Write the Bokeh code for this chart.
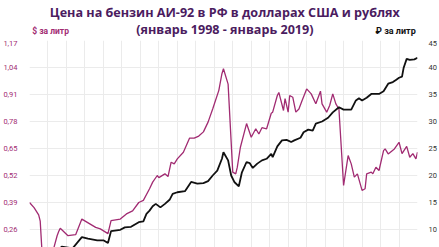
import pandas as pd
from bokeh.plotting import figure
from bokeh.layouts import column
from bokeh.models import Range1d, LinearAxis, FixedTicker, CustomJSTickFormatter
from bokeh.core.properties import value
from bokeh.embed import file_html
from bokeh.resources import INLINE

# --- data -------------------------------------------------------------
usd_months = ["1998-01", "1998-04", "1998-07", "1998-08", "1998-09", "1998-10", "1998-11",
              "1999-01", "1999-03", "1999-05", "1999-07", "1999-08", "1999-09", "2000-02",
              "2000-07", "2000-11", "2001-08", "2001-11", "2002-04", "2002-06", "2002-12",
              "2003-04", "2003-08", "2003-12", "2004-03", "2004-07", "2004-09", "2004-12",
              "2005-01", "2005-05", "2005-07", "2005-09", "2005-11", "2006-01", "2006-05",
              "2006-09", "2006-12", "2007-03", "2007-06", "2007-09", "2007-12", "2008-04",
              "2008-06", "2008-07", "2008-10", "2009-01", "2009-03", "2009-04", "2009-06",
              "2009-10", "2010-01", "2010-04", "2010-06", "2010-08", "2010-11", "2011-02",
              "2011-03", "2011-06", "2011-07", "2011-10", "2011-11", "2012-01", "2012-02",
              "2012-04", "2012-06", "2012-08", "2012-10", "2013-01", "2013-04", "2013-07",
              "2013-10", "2013-11", "2014-02", "2014-04", "2014-06", "2014-08", "2014-10",
              "2015-01", "2015-04", "2015-06", "2015-08", "2015-10", "2016-01", "2016-03",
              "2016-04", "2016-07", "2016-08", "2016-10", "2016-12", "2017-03", "2017-04",
              "2017-06", "2017-10", "2018-01", "2018-03", "2018-06", "2018-08", "2018-10",
              "2018-12", "2019-01"]
usd_price = [0.39, 0.365, 0.33, 0.30, 0.17, 0.13, 0.12,
             0.11, 0.12, 0.175, 0.23, 0.25, 0.266, 0.23,
             0.235, 0.31, 0.27, 0.263, 0.24, 0.303, 0.31,
             0.335, 0.35, 0.39, 0.40, 0.456, 0.488, 0.52,
             0.51, 0.528, 0.515, 0.584, 0.576, 0.60, 0.632,
             0.70, 0.70, 0.71, 0.73, 0.777, 0.84, 0.93,
             1.01, 1.034, 0.96, 0.536, 0.528, 0.56, 0.656,
             0.77, 0.704, 0.745, 0.72, 0.75, 0.745, 0.82,
             0.825, 0.905, 0.92, 0.833, 0.89, 0.825, 0.905,
             0.897, 0.825, 0.84, 0.88, 0.937, 0.913, 0.865,
             0.926, 0.865, 0.825, 0.857, 0.913, 0.865, 0.84,
             0.472, 0.616, 0.576, 0.512, 0.528, 0.448, 0.456,
             0.528, 0.536, 0.528, 0.56, 0.544, 0.64, 0.648,
             0.624, 0.648, 0.68, 0.625, 0.66, 0.608, 0.625,
             0.60, 0.632]

rub_months = ["1998-01", "1998-07", "1998-10", "1999-01", "1999-05", "1999-08", "1999-10",
              "2000-01", "2000-05", "2000-11", "2001-03", "2001-09", "2002-01", "2002-04",
              "2002-06", "2002-12", "2003-03", "2003-07", "2003-12", "2004-03", "2004-05",
              "2004-07", "2004-09", "2004-11", "2005-02", "2005-05", "2005-08", "2005-10",
              "2006-01", "2006-06", "2006-10", "2007-02", "2007-06", "2007-09", "2007-12",
              "2008-03", "2008-06", "2008-07", "2008-10", "2008-12", "2009-02", "2009-05",
              "2009-07", "2009-10", "2009-12", "2010-02", "2010-05", "2010-08", "2010-11",
              "2011-02", "2011-03", "2011-06", "2011-09", "2011-12", "2012-03", "2012-05",
              "2012-09", "2012-11", "2013-02", "2013-05", "2013-07", "2013-11", "2014-03",
              "2014-06", "2014-10", "2015-01", "2015-06", "2015-09", "2015-11", "2016-01",
              "2016-04", "2016-07", "2016-12", "2017-03", "2017-06", "2017-09", "2017-11",
              "2018-01", "2018-03", "2018-04", "2018-06", "2018-08", "2018-11", "2019-01"]
rub_price = [2.4, 2.5, 3.0, 3.8, 5.0, 6.2, 6.85,
             6.7, 6.5, 8.6, 8.3, 8.0, 8.0, 7.5,
             9.7, 9.95, 10.4, 10.5, 11.35, 11.5, 12.9,
             13.5, 14.3, 14.75, 14.1, 14.75, 15.5, 16.6,
             16.9, 17.1, 18.8, 18.5, 18.6, 18.95, 20.0,
             20.9, 23.1, 24.3, 22.8, 20.0, 18.8, 18.0,
             20.6, 22.5, 22.3, 21.4, 22.2, 22.8, 23.1,
             24.0, 23.4, 25.4, 26.5, 26.6, 26.2, 26.5,
             27.0, 28.0, 28.5, 28.3, 29.6, 30.0, 30.7,
             31.7, 32.65, 32.2, 32.2, 33.9, 34.3, 33.9,
             34.4, 35.1, 35.1, 35.6, 37.0, 37.3, 37.7,
             38.1, 38.3, 39.9, 41.6, 41.4, 41.5, 41.8]

usd_ticks = [0.13, 0.26, 0.39, 0.52, 0.65, 0.78, 0.91, 1.04, 1.17]
rub_ticks = [5, 10, 15, 20, 25, 30, 35, 40, 45]
year_ticks = [f"{y}-01" for y in range(1998, 2020)]

title_1 = "Цена на бензин АИ-92 в РФ в долларах США и рублях"
title_2 = "(январь 1998 - январь 2019)"
usd_label = "$ за литр"
rub_label = "₽ за литр"

# --- styling constants --------------------------------------------------
PURPLE = "#a12b72"
TITLE_C = "#4b1c5f"
GRID_C = "#ebebeb"
W, HEAD, BODY = 439, 40, 207

# --- header (titles) ------------------------------------------------------
head = figure(width=W, height=HEAD, output_backend="svg", toolbar_location=None,
              x_range=Range1d(0, W), y_range=Range1d(HEAD, 0),
              min_border=0, outline_line_color=None)
head.axis.visible = False
head.grid.visible = False
head.text(x=[221, 221], y=[11.5, 28.5], text=[title_1, title_2],
          text_align="center", text_baseline="middle", text_color=TITLE_C,
          text_font=value("Open Sans"), text_font_style="bold", text_font_size="12.6px")
head.text(x=[3], y=[30], text=[usd_label], text_align="left", text_baseline="middle",
          text_color=PURPLE, text_font=value("Roboto"), text_font_style="bold",
          text_font_size="8.5px")
head.text(x=[437], y=[30.5], text=[rub_label], text_align="right", text_baseline="middle",
          text_color="#111111", text_font=value("Roboto"), text_font_style="bold",
          text_font_size="9px")

# --- main chart -----------------------------------------------------------
X0 = pd.Timestamp("1998-01-01")
X1 = pd.Timestamp("2019-01-01")
usd_x = pd.to_datetime(usd_months)
rub_x = pd.to_datetime(rub_months)
x_ticks = [pd.Timestamp(t).value / 1e6 for t in year_ticks]

p = figure(width=W, height=BODY, output_backend="svg", toolbar_location=None,
           x_axis_type="datetime",
           x_range=Range1d(X0, X1),
           y_range=Range1d(0.1733, 1.17),
           min_border_left=24, min_border_right=19, min_border_top=0, min_border_bottom=0)
p.extra_y_ranges = {"rub": Range1d(6.667, 45)}
p.outline_line_color = None

p.xaxis.visible = False
p.xgrid.ticker = FixedTicker(ticks=x_ticks)
p.xgrid.grid_line_color = GRID_C
p.ygrid.grid_line_color = GRID_C

yl = p.yaxis[0]
yl.ticker = FixedTicker(ticks=usd_ticks)
yl.formatter = CustomJSTickFormatter(code="return tick.toFixed(2).replace('.', ',')")
yl.axis_line_color = None
yl.major_tick_line_color = None
yl.minor_tick_line_color = None
yl.major_label_text_color = PURPLE
yl.major_label_text_font = "Roboto"
yl.major_label_text_font_size = "7.5px"
yl.major_label_standoff = 6
p.ygrid.ticker = FixedTicker(ticks=usd_ticks)

yr = LinearAxis(y_range_name="rub", ticker=FixedTicker(ticks=rub_ticks))
yr.axis_line_color = None
yr.major_tick_line_color = None
yr.minor_tick_line_color = None
yr.major_label_text_color = "#333333"
yr.major_label_text_font = "Roboto"
yr.major_label_text_font_size = "7.5px"
yr.major_label_standoff = 5
p.add_layout(yr, "right")

p.line(usd_x, usd_price, line_color=PURPLE, line_width=1.3)
p.line(rub_x, rub_price, line_color="#111111", line_width=1.8, y_range_name="rub")

layout = column(head, p, spacing=0)
open("out.html", "w").write(file_html(layout, INLINE))
